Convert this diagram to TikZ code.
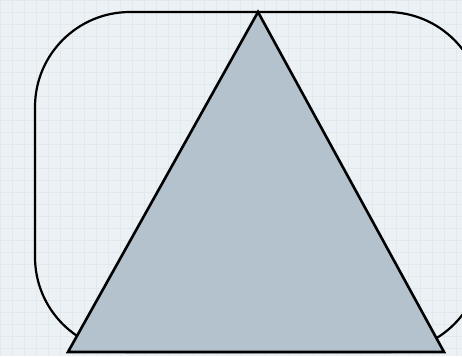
\documentclass[tikz,border=0pt]{standalone}
\definecolor{bgpaper}{RGB}{235,241,244}
\definecolor{bggrid}{RGB}{226,233,237}
\definecolor{trifill}{RGB}{179,194,205}

\begin{document}
\begin{tikzpicture}[x=1pt, y=-1pt]
%% paper background
\useasboundingbox (0,0) rectangle (462,356);
\clip (0,0) rectangle (462,356);
\fill[bgpaper] (0,0) rectangle (462,356);
\draw[bggrid, line width=0.8pt, step=12pt] (0,0) grid (462,356);
%% rounded frame behind
\draw[black, line width=2.2pt, rounded corners=95pt] (35,12) rectangle (482,352);
%% triangle in front
\filldraw[fill=trifill, draw=black, line width=2.6pt, line join=miter]
  (258,12) -- (444,352) -- (68,352) -- cycle;
\end{tikzpicture}
\end{document}
